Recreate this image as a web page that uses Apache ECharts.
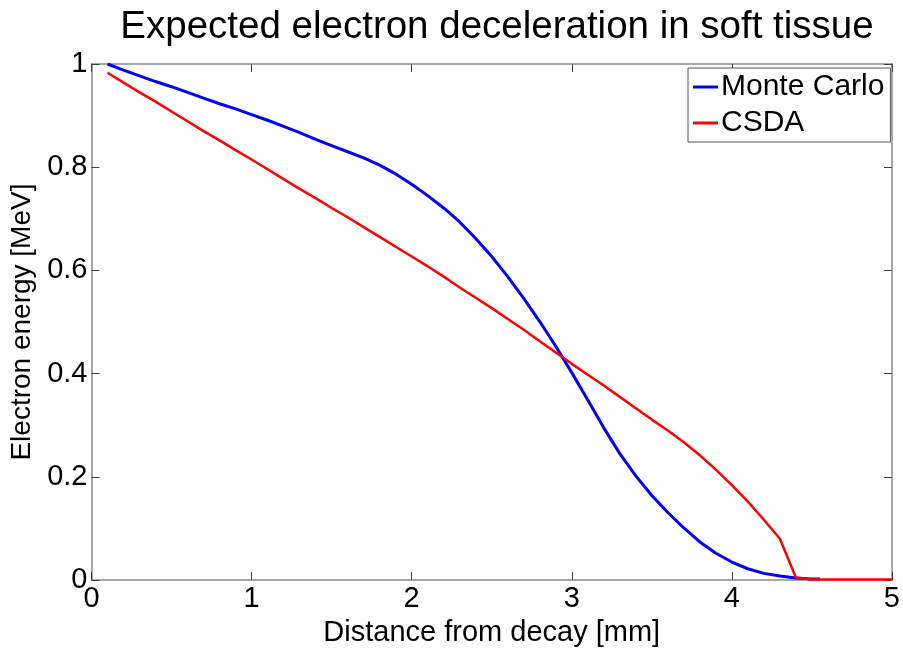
<!DOCTYPE html>
<html>
<head>
<meta charset="utf-8">
<script src="https://cdn.jsdelivr.net/npm/echarts@6/dist/echarts.min.js"></script>
<style>
html,body{margin:0;padding:0;background:#fff;}
#chart{width:903px;height:652px;}
</style>
</head>
<body>
<div id="chart"></div>
<script>
const titleText = 'Expected electron deceleration in soft tissue';
const xName = 'Distance from decay [mm]';
const yName = 'Electron energy [MeV]';
const seriesNames = ['Monte Carlo', 'CSDA'];
const xTicks = [0, 1, 2, 3, 4, 5];
const yTicks = [0, 0.2, 0.4, 0.6, 0.8, 1];

const mcX = [0.1,0.2,0.3,0.4,0.5,0.6,0.7,0.8,0.9,1.0,1.1,1.2,1.3,1.4,1.5,1.6,1.7,1.8,1.9,2.0,2.1,2.2,2.3,2.4,2.5,2.6,2.7,2.8,2.9,3.0,3.1,3.2,3.3,3.4,3.5,3.6,3.7,3.8,3.9,4.0,4.1,4.2,4.3,4.4,4.5,4.55];
const mcY = [1.000,0.988,0.977,0.966,0.956,0.945,0.934,0.923,0.913,0.902,0.891,0.879,0.867,0.854,0.842,0.830,0.818,0.804,0.787,0.767,0.745,0.721,0.694,0.662,0.627,0.588,0.546,0.501,0.453,0.402,0.349,0.295,0.245,0.202,0.164,0.131,0.101,0.074,0.052,0.035,0.022,0.013,0.008,0.004,0.002,0.002];

const csdaX = [0.1,0.2,0.3,0.4,0.5,0.6,0.7,0.8,0.9,1.0,1.1,1.2,1.3,1.4,1.5,1.6,1.7,1.8,1.9,2.0,2.1,2.2,2.3,2.4,2.5,2.6,2.7,2.8,2.9,3.0,3.1,3.2,3.3,3.4,3.5,3.6,3.7,3.8,3.9,4.0,4.1,4.2,4.3,4.4,4.5,4.6,4.7,4.8,4.9,5.0];
const csdaY = [0.983,0.964,0.945,0.927,0.908,0.889,0.870,0.852,0.833,0.815,0.796,0.777,0.758,0.740,0.721,0.703,0.684,0.665,0.646,0.627,0.608,0.588,0.567,0.547,0.527,0.506,0.485,0.463,0.441,0.419,0.398,0.377,0.355,0.333,0.311,0.290,0.267,0.242,0.214,0.184,0.152,0.117,0.080,0.005,0.001,0.001,0.001,0.001,0.001,0.001];

const FONT = 'Arial, "Liberation Sans", Helvetica, sans-serif';
const chart = echarts.init(document.getElementById('chart'), null, {renderer: 'canvas'});

function zip(xs, ys) { return xs.map((x, i) => [x, ys[i]]); }

const axisLineColor = '#8a8a8a';
const tickColor = '#404040';

const baseX = {
  type: 'value', min: xTicks[0], max: xTicks[xTicks.length - 1], interval: 1,
  axisLine: {show: true, onZero: false, lineStyle: {color: axisLineColor, width: 1.5}},
  axisTick: {show: true, inside: true, length: 8, lineStyle: {color: tickColor, width: 1}},
  splitLine: {show: false}
};
const baseY = {
  type: 'value', min: yTicks[0], max: yTicks[yTicks.length - 1], interval: 0.2,
  axisLine: {show: true, onZero: false, lineStyle: {color: axisLineColor, width: 1.5}},
  axisTick: {show: true, inside: true, length: 8, lineStyle: {color: tickColor, width: 1}},
  splitLine: {show: false}
};

chart.setOption({
  backgroundColor: '#fff',
  animation: false,
  title: {
    text: titleText, left: 492, top: 3, textAlign: 'center',
    textStyle: {fontFamily: FONT, fontSize: 38.5, fontWeight: 'normal', color: '#000'}
  },
  legend: {
    orient: 'vertical', left: 688, top: 68,
    backgroundColor: '#fff', borderColor: '#555', borderWidth: 1,
    padding: [4, 6, 4, 5], itemGap: 6, itemWidth: 25, itemHeight: 3,
    icon: 'rect',
    textStyle: {fontFamily: FONT, fontSize: 30, color: '#000', padding: [0, 0, 0, -2]},
    data: seriesNames
  },
  grid: {left: 91.5, right: 9.5, top: 64, bottom: 66, containLabel: false},
  xAxis: [
    Object.assign({}, baseX, {
      position: 'bottom', name: xName, nameLocation: 'middle', nameGap: 34,
      nameTextStyle: {fontFamily: FONT, fontSize: 29, color: '#000'},
      axisLabel: {fontFamily: FONT, fontSize: 29, color: '#000', margin: 4}
    }),
    Object.assign({}, baseX, {position: 'top', axisLabel: {show: false}})
  ],
  yAxis: [
    Object.assign({}, baseY, {
      position: 'left', name: yName, nameLocation: 'middle', nameGap: 50,
      nameTextStyle: {fontFamily: FONT, fontSize: 28, color: '#000'},
      axisLabel: {fontFamily: FONT, fontSize: 29, color: '#000', margin: 4,
        formatter: v => String(+v.toFixed(1))}
    }),
    Object.assign({}, baseY, {position: 'right', axisLabel: {show: false}})
  ],
  series: [
    {
      name: seriesNames[0], type: 'line', data: zip(mcX, mcY),
      showSymbol: false, symbol: 'none', smooth: false,
      lineStyle: {color: '#0000ff', width: 3}, itemStyle: {color: '#0000ff'}
    },
    {
      name: seriesNames[1], type: 'line', data: zip(csdaX, csdaY),
      showSymbol: false, symbol: 'none', smooth: false,
      lineStyle: {color: '#ff0000', width: 2.5}, itemStyle: {color: '#ff0000'}
    }
  ]
});
</script>
</body>
</html>
